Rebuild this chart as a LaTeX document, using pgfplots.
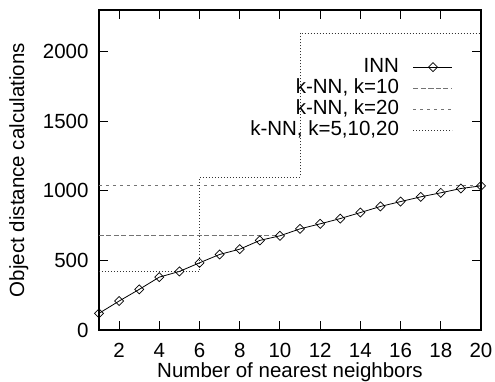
\documentclass[border=0pt]{standalone}
\usepackage{pgfplots}
\pgfplotsset{compat=1.18}
\usepackage{fontspec}
\setmainfont{Liberation Sans}
\newcommand{\bigf}{\fontsize{20.5}{22}\selectfont}
\begin{document}
\begin{tikzpicture}
\begin{axis}[name=ax,
  scale only axis, width=382pt, height=320pt,
  xmin=1, xmax=20, ymin=0, ymax=2300,
  xtick={2,4,...,20}, ytick={0,500,1000,1500,2000},
  tick align=inside, major tick length=9pt,
  tick style={black, line width=0.9pt},
  axis line style={line width=1.3pt},
  /pgf/number format/assume math mode=true,
  /pgf/number format/set thousands separator={},
  tick label style={font=\bigf},
  label style={font=\bigf},
  xlabel={Number of nearest neighbors},
  ylabel={Object distance calculations},
  xlabel style={at={(axis description cs:0.5,-0.147)}, anchor=base},
  ylabel style={at={(axis description cs:-0.196,0.5)}, anchor=base},
  xticklabel style={yshift=-10pt},
  yticklabel style={xshift=-7pt},
  legend cell align=right,
  legend plot pos=right,
  legend style={draw=none, fill=none, at={(rel axis cs:0.935,0.861)}, anchor=north east,
    font=\bigf, row sep=0pt, nodes={text height=14.5pt, text depth=4.5pt, inner ysep=1pt, inner xsep=2pt}},
  legend image code/.code={\path (0pt,0pt); \draw[mark repeat=2,mark phase=2,#1] plot coordinates {(12pt,0pt) (31.5pt,0pt) (51pt,0pt)};},
]
\addplot[black, line width=0.8pt, mark=square, mark size=3.2pt, mark options={rotate=45, solid, fill=white, line width=0.7pt}] coordinates {
(1,120) (2,208) (3,292) (4,380) (5,421) (6,483) (7,543) (8,581) (9,644) (10,677)
(11,727) (12,763) (13,801) (14,844) (15,888) (16,923) (17,957) (18,986) (19,1017) (20,1036)};
\addlegendentry{INN}
\addplot[black!55, line width=1pt, dash pattern=on 5pt off 2.5pt] coordinates {(1,677) (10,677)};
\addlegendentry{k-NN, k=10}
\addplot[black!55, line width=1pt, dash pattern=on 3pt off 4pt] coordinates {(1,1036) (20,1036)};
\addlegendentry{k-NN, k=20}
\addplot[black!80, line width=0.8pt, dash pattern=on 1pt off 2pt] coordinates {(1,421) (6,421) (6,1098) (11,1098) (11,2134) (20,2134)};
\addlegendentry{k-NN, k=5,10,20}
\end{axis}
\pgfresetboundingbox
\path (ax.south west) ++(-99pt,-51pt) rectangle ++(495pt,381pt);
\end{tikzpicture}
\end{document}
